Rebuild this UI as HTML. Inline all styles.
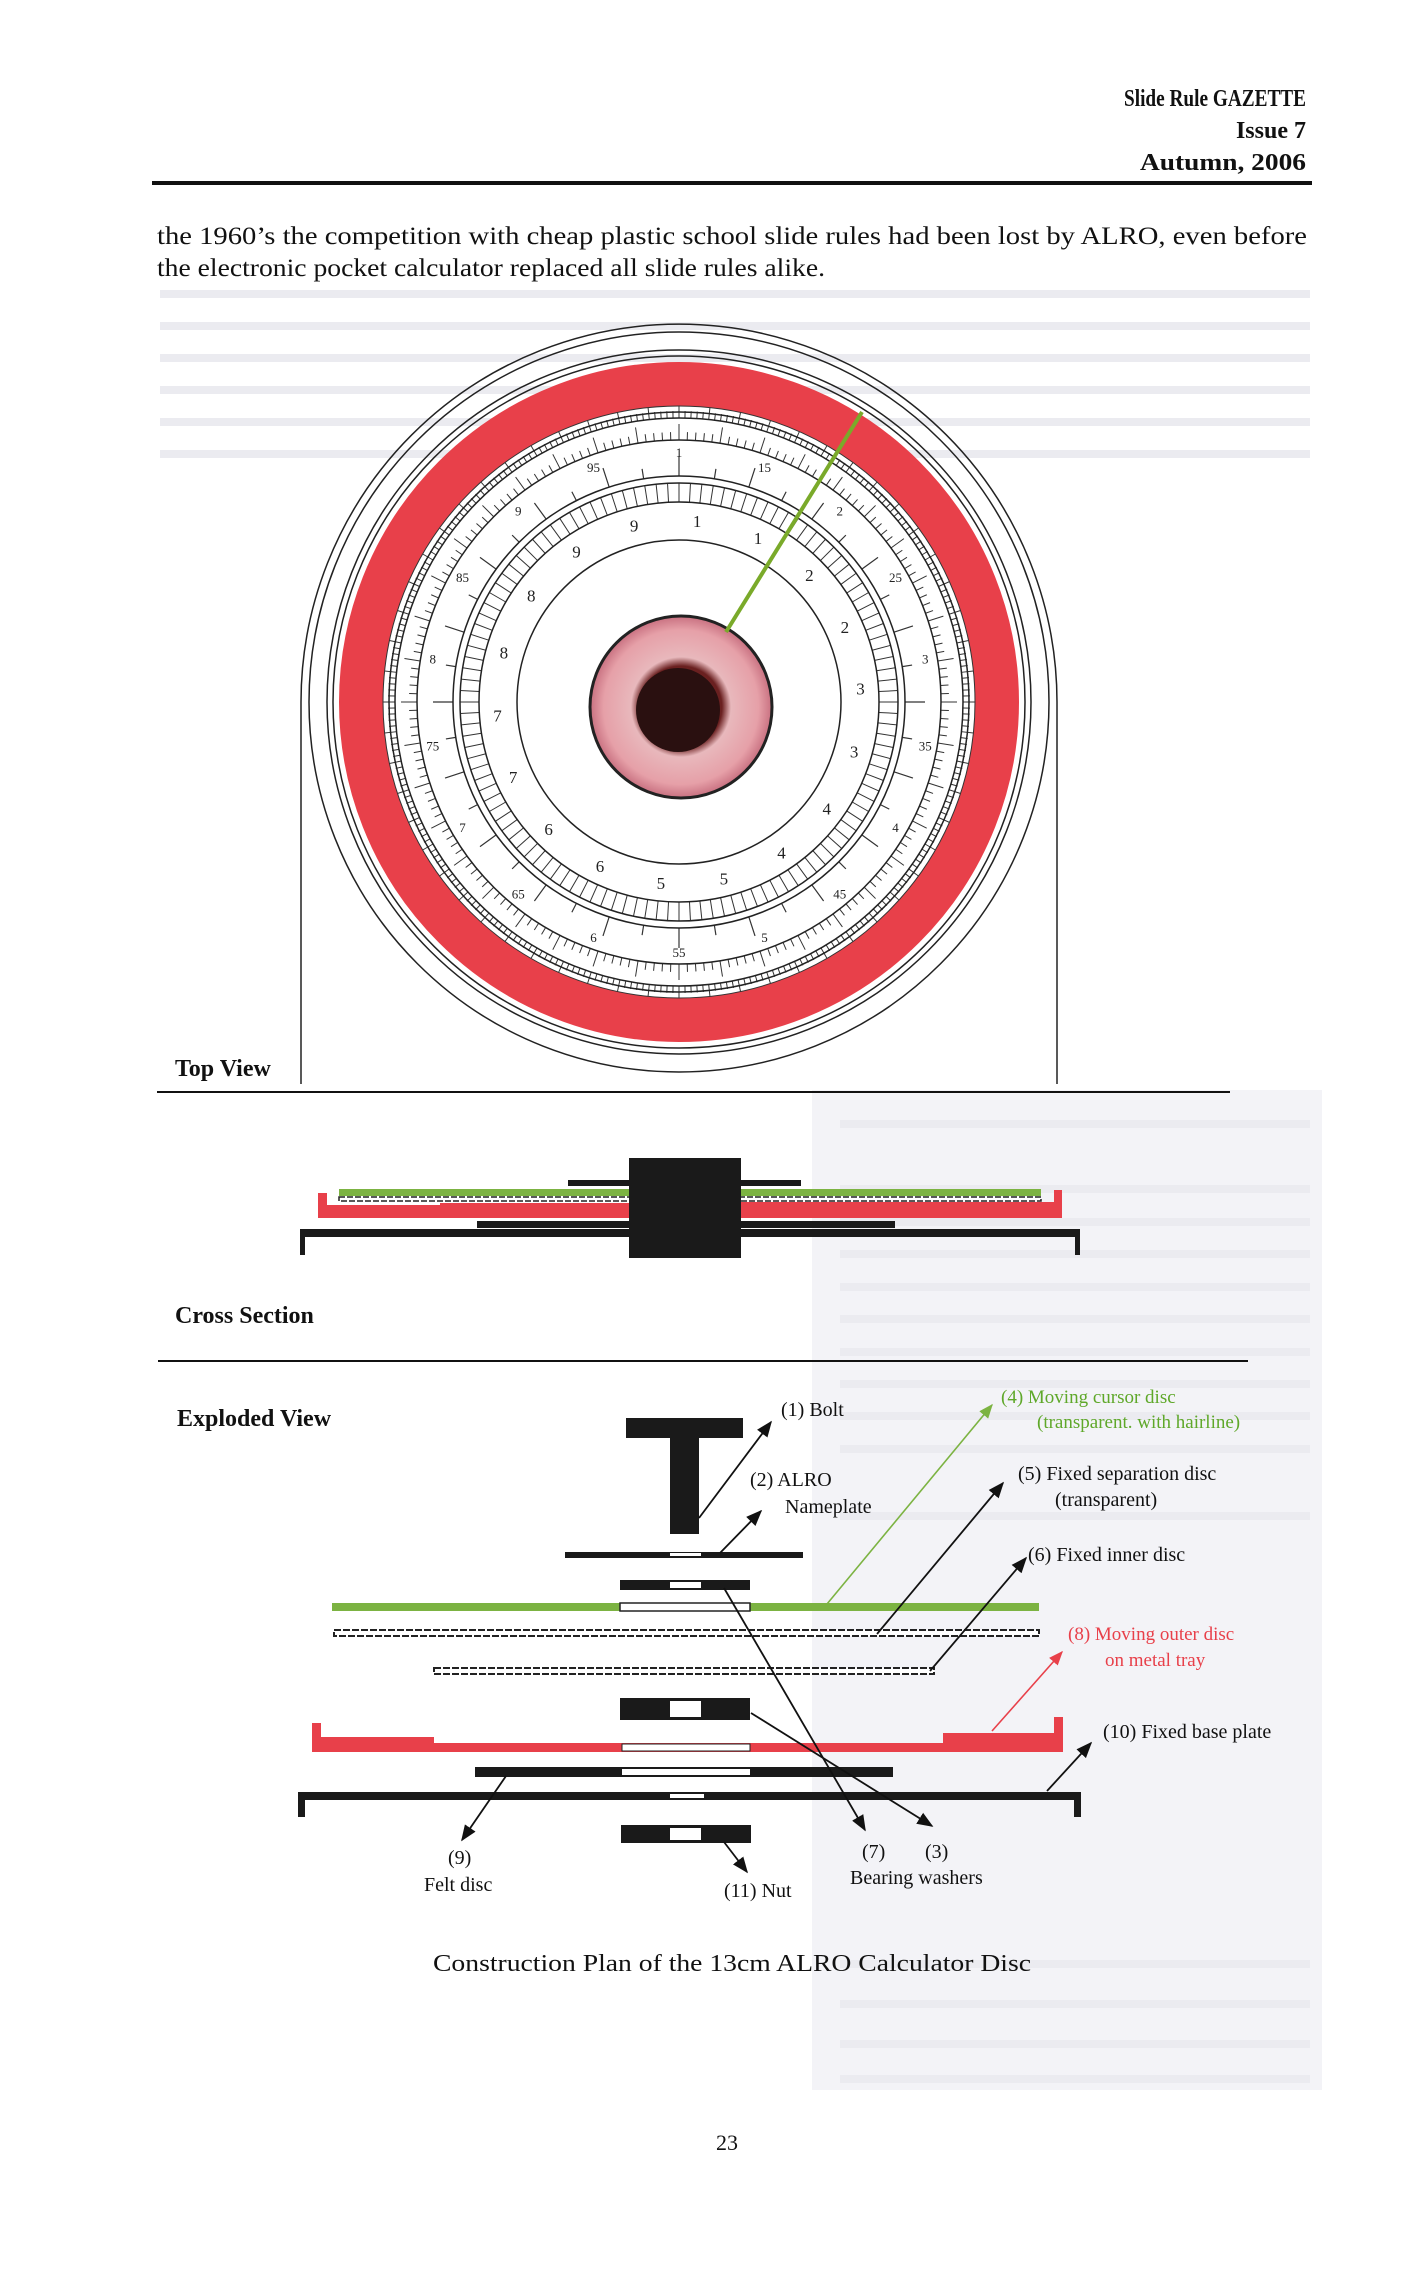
<!DOCTYPE html>
<html><head><meta charset="utf-8"><style>
html,body{margin:0;padding:0;background:#fff}
svg{display:block}
text{font-family:"Liberation Serif",serif}
</style></head><body>
<svg id="s" width="1426" height="2280" viewBox="0 0 1426 2280" xmlns="http://www.w3.org/2000/svg">
<rect width="1426" height="2280" fill="#fff"/>
<g fill="#f3f3f7">
<rect x="812" y="1090" width="510" height="1000"/>
</g>
<g fill="#ebebf0">
<rect x="160" y="290" width="1150" height="8"/><rect x="160" y="322" width="1150" height="8"/><rect x="160" y="354" width="1150" height="8"/><rect x="160" y="386" width="1150" height="8"/><rect x="160" y="418" width="1150" height="8"/><rect x="160" y="450" width="1150" height="8"/>
<rect x="840" y="1120" width="470" height="8"/><rect x="840" y="1185" width="470" height="8"/><rect x="840" y="1218" width="470" height="8"/><rect x="840" y="1250" width="470" height="8"/><rect x="840" y="1283" width="470" height="8"/><rect x="840" y="1315" width="470" height="8"/><rect x="840" y="1348" width="470" height="8"/><rect x="840" y="1380" width="470" height="8"/><rect x="840" y="1412" width="470" height="8"/><rect x="840" y="1445" width="470" height="8"/><rect x="840" y="1512" width="470" height="8"/>
<rect x="840" y="1960" width="470" height="8"/><rect x="840" y="2000" width="470" height="8"/><rect x="840" y="2040" width="470" height="8"/><rect x="840" y="2075" width="470" height="8"/>
</g>
<g font-weight="bold" font-size="24" text-anchor="end" fill="#111">
<text x="1306" y="106" textLength="182" lengthAdjust="spacingAndGlyphs">Slide Rule GAZETTE</text>
<text x="1306" y="138">Issue 7</text>
<text x="1306" y="170" textLength="166" lengthAdjust="spacingAndGlyphs">Autumn, 2006</text>
</g>
<rect x="152" y="181" width="1160" height="4" fill="#111"/>
<g font-size="25" fill="#111">
<text x="157" y="244" textLength="1150" lengthAdjust="spacingAndGlyphs">the 1960’s the competition with cheap plastic school slide rules had been lost by ALRO, even before</text>
<text x="157" y="276" textLength="668" lengthAdjust="spacingAndGlyphs">the electronic pocket calculator replaced all slide rules alike.</text>
</g>
<g fill="none" stroke="#222" stroke-width="1.5">
<path d="M301,1084 L301,702 A378,378 0 0 1 1057,702 L1057,1084"/>
<circle cx="679" cy="702" r="370"/>
<circle cx="679" cy="702" r="352"/>
<circle cx="679" cy="702" r="346"/>
</g>
<circle cx="679" cy="702" r="318" fill="none" stroke="#e8404a" stroke-width="44"/>
<circle cx="679" cy="702" r="296" fill="#fff" stroke="#333" stroke-width="1"/>
<g id="ticks" stroke="#333" fill="none"></g>
<g fill="none" stroke="#222" stroke-width="1.5">
<circle cx="679" cy="702" r="290"/>
<circle cx="679" cy="702" r="284"/>
<circle cx="679" cy="702" r="262"/>
<circle cx="679" cy="702" r="226"/>
<circle cx="679" cy="702" r="219"/>
<circle cx="679" cy="702" r="200"/>
<circle cx="679" cy="702" r="162"/>
</g>
<g id="nums" font-size="13" fill="#222" text-anchor="middle"></g>
<radialGradient id="hub" cx="50%" cy="50%" r="50%"><stop offset="0.45" stop-color="#6a2020"/><stop offset="0.55" stop-color="#e8b8bc"/><stop offset="0.85" stop-color="#e6a0a8"/><stop offset="1" stop-color="#c87080"/></radialGradient>
<circle cx="681" cy="707" r="91" fill="url(#hub)" stroke="#222" stroke-width="3"/>
<circle cx="678" cy="710" r="42" fill="#2a1010"/>
<line x1="726" y1="632" x2="862" y2="412" stroke="#7aaa2a" stroke-width="4"/>
<text x="175" y="1076" font-size="24" font-weight="bold" fill="#111">Top View</text>
<rect x="157" y="1091" width="1073" height="2" fill="#111"/>
<rect x="568" y="1180" width="233" height="6" fill="#1a1a1a"/>
<rect x="339" y="1189" width="702" height="7" fill="#7cb342"/>
<rect x="339" y="1197" width="702" height="4" fill="#fff" stroke="#222" stroke-width="1.5" stroke-dasharray="6 2"/>
<rect x="440" y="1206" width="502" height="4" fill="#fff" stroke="#222" stroke-width="1.5" stroke-dasharray="6 2"/>
<path d="M318,1193 h9 v12 h113 v-2 h189 v15 h-311z" fill="#e8404a"/>
<path d="M741,1202 h313 v-12 h8 v28 h-321z" fill="#e8404a"/>
<rect x="477" y="1221" width="418" height="7" fill="#1a1a1a"/>
<path d="M300,1229 h780 v26 h-5 v-18 h-770 v18 h-5z" fill="#1a1a1a"/>
<rect x="629" y="1158" width="112" height="100" fill="#1a1a1a"/>
<text x="175" y="1323" font-size="24" font-weight="bold" fill="#111">Cross Section</text>
<rect x="158" y="1360" width="1090" height="2" fill="#111"/>
<text x="177" y="1426" font-size="24" font-weight="bold" fill="#111">Exploded View</text>
<rect x="626" y="1418" width="117" height="20" fill="#1a1a1a"/>
<rect x="670" y="1436" width="29" height="98" fill="#1a1a1a"/>
<rect x="565" y="1552" width="238" height="6" fill="#1a1a1a"/><rect x="670" y="1553" width="31" height="3" fill="#fff"/>
<rect x="620" y="1580" width="130" height="10" fill="#1a1a1a"/><rect x="670" y="1582" width="31" height="6" fill="#fff"/>
<rect x="332" y="1603" width="707" height="8" fill="#7cb342"/><rect x="620" y="1603" width="130" height="8" fill="#fff" stroke="#222" stroke-width="1.5"/>
<rect x="334" y="1630" width="705" height="6" fill="#fff" stroke="#222" stroke-width="2" stroke-dasharray="7 2"/>
<rect x="434" y="1668" width="500" height="6" fill="#fff" stroke="#222" stroke-width="2" stroke-dasharray="7 2"/>
<rect x="620" y="1698" width="130" height="22" fill="#1a1a1a"/><rect x="670" y="1701" width="31" height="16" fill="#fff"/>
<path d="M312,1723 h9 v14 h113 v6 h509 v-10 h111 v-16 h9 v35 h-751z" fill="#e8404a"/>
<rect x="622" y="1744" width="128" height="7" fill="#fff" stroke="#222" stroke-width="1"/>
<rect x="475" y="1767" width="418" height="10" fill="#1a1a1a"/><rect x="622" y="1769" width="128" height="6" fill="#fff"/>
<path d="M298,1792 h783 v25 h-7 v-17 h-769 v17 h-7z" fill="#1a1a1a"/><rect x="670" y="1794" width="34" height="4" fill="#fff"/>
<rect x="621" y="1825" width="130" height="18" fill="#1a1a1a"/><rect x="670" y="1828" width="31" height="12" fill="#fff"/>
<defs>
<marker id="ak" viewBox="0 0 10 10" refX="9" refY="5" markerWidth="9" markerHeight="9" orient="auto"><path d="M0,1 L10,5 L0,9z" fill="#111"/></marker>
<marker id="ag" viewBox="0 0 10 10" refX="9" refY="5" markerWidth="9" markerHeight="9" orient="auto"><path d="M0,1 L10,5 L0,9z" fill="#7cb342"/></marker>
<marker id="ar" viewBox="0 0 10 10" refX="9" refY="5" markerWidth="9" markerHeight="9" orient="auto"><path d="M0,1 L10,5 L0,9z" fill="#e8404a"/></marker>
</defs>
<g stroke="#111" stroke-width="1.8" marker-end="url(#ak)">
<line x1="699" y1="1518" x2="771" y2="1422"/>
<line x1="720" y1="1553" x2="761" y2="1511"/>
<line x1="877" y1="1634" x2="1003" y2="1483"/>
<line x1="930" y1="1671" x2="1026" y2="1558"/>
<line x1="1047" y1="1791" x2="1091" y2="1743"/>
<line x1="506" y1="1776" x2="462" y2="1840"/>
<line x1="724" y1="1842" x2="747" y2="1872"/>
<line x1="724" y1="1588" x2="865" y2="1830"/>
<line x1="751" y1="1713" x2="932" y2="1826"/>
</g>
<line x1="827" y1="1604" x2="992" y2="1405" stroke="#7cb342" stroke-width="1.6" marker-end="url(#ag)"/>
<line x1="992" y1="1731" x2="1062" y2="1652" stroke="#e8404a" stroke-width="1.6" marker-end="url(#ar)"/>
<g font-size="20" fill="#111">
<text x="781" y="1416">(1) Bolt</text>
<text x="750" y="1486">(2) ALRO</text>
<text x="785" y="1513">Nameplate</text>
<text x="1018" y="1480">(5) Fixed separation disc</text>
<text x="1055" y="1506">(transparent)</text>
<text x="1028" y="1561">(6) Fixed inner disc</text>
<text x="1103" y="1738">(10) Fixed base plate</text>
<text x="448" y="1864">(9)</text>
<text x="424" y="1891">Felt disc</text>
<text x="724" y="1897">(11) Nut</text>
<text x="862" y="1858">(7)</text>
<text x="925" y="1858">(3)</text>
<text x="850" y="1884">Bearing washers</text>
</g>
<g font-size="19" fill="#5fa82a">
<text x="1001" y="1403">(4) Moving cursor disc</text>
<text x="1037" y="1428">(transparent. with hairline)</text>
</g>
<g font-size="19" fill="#e8404a">
<text x="1068" y="1640">(8) Moving outer disc</text>
<text x="1105" y="1666">on metal tray</text>
</g>
<text x="433" y="1971" font-size="24" fill="#111" textLength="598" lengthAdjust="spacingAndGlyphs">Construction Plan of the 13cm ALRO Calculator Disc</text>
<text x="716" y="2150" font-size="22" fill="#111">23</text>
</svg>
<script>
(function(){
var ns="http://www.w3.org/2000/svg",cx=679,cy=702,g=document.getElementById("ticks"),n=document.getElementById("nums");
function ln(r1,r2,a,w){var l=document.createElementNS(ns,"line");var c=Math.cos(a),s=Math.sin(a);
l.setAttribute("x1",cx+r1*c);l.setAttribute("y1",cy+r1*s);l.setAttribute("x2",cx+r2*c);l.setAttribute("y2",cy+r2*s);l.setAttribute("stroke-width",w);g.appendChild(l);}
var i;
for(i=0;i<300;i++){ln(284,i%5?291:296,i/300*2*Math.PI,1);}
for(i=0;i<200;i++){ln(262,i%5?270:278,i/200*2*Math.PI,1);}
for(i=0;i<120;i++){ln(200,219,i/120*2*Math.PI,1);}
for(i=0;i<40;i++){ln(226,i%2?236:246,i/40*2*Math.PI,1.2);}
var labs=["1","15","2","25","3","35","4","45","5","55","6","65","7","75","8","85","9","95"];
for(i=0;i<18;i++){var a=-Math.PI/2+i/18*2*Math.PI;var t=document.createElementNS(ns,"text");
t.setAttribute("x",cx+250*Math.cos(a));t.setAttribute("y",cy+250*Math.sin(a)+5);t.textContent=labs[i];n.appendChild(t);
var t2=document.createElementNS(ns,"text");t2.setAttribute("x",cx+182*Math.cos(a+0.1));t2.setAttribute("y",cy+182*Math.sin(a+0.1)+6);t2.setAttribute("font-size","17");t2.textContent=labs[i].charAt(0);n.appendChild(t2);}
})();
</script>
</body></html>
